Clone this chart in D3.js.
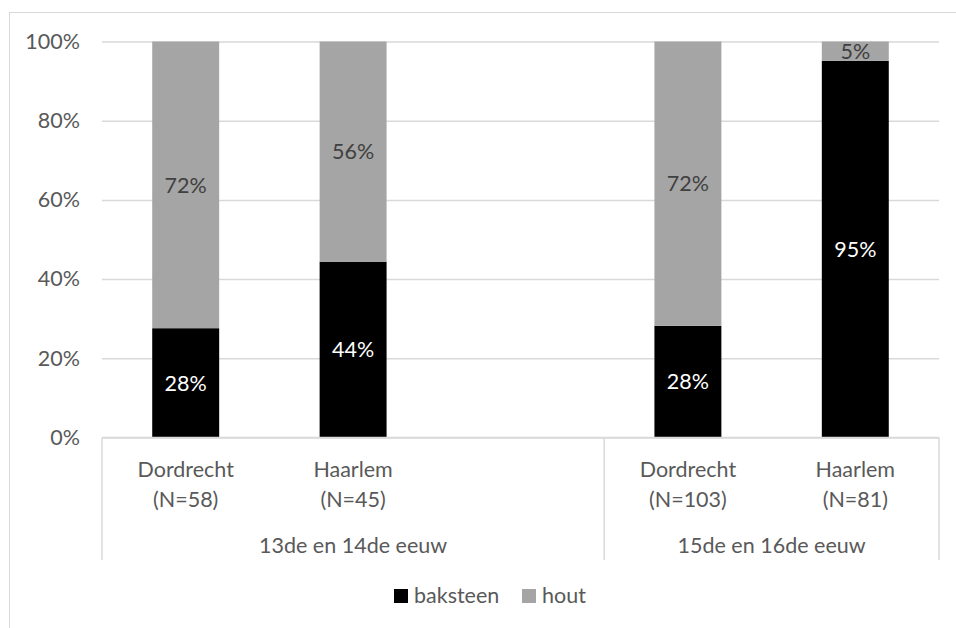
<!DOCTYPE html>
<html>
<head>
<meta charset="utf-8">
<script src="https://cdn.jsdelivr.net/npm/d3@7/dist/d3.min.js"></script>
<style>
  body { margin: 0; background: #fff; }
  text { font-family: Lato, "Open Sans", sans-serif; }
</style>
</head>
<body>
<svg id="chart"></svg>
<script>
const width = 956;
const height = 628;

// data
const cities = ['Dordrecht', 'Haarlem', '', 'Dordrecht', 'Haarlem'];
const counts = ['(N=58)', '(N=45)', '', '(N=103)', '(N=81)'];
const baksteen = [27.6, 44.4, null, 28.2, 95.1];
const hout = [72.4, 55.6, null, 71.8, 4.9];
const periods = ['13de en 14de eeuw', '15de en 16de eeuw'];
const periodFirst = [0, 3];
const periodLast = [2, 4];
const yTicks = [0, 20, 40, 60, 80, 100];
const seriesNames = ['baksteen', 'hout'];
const seriesColors = ['#000000', '#a5a5a5'];

const plotLeft = 102, plotRight = 939, plotTop = 41.5, plotBottom = 437.5;
const textColor = '#595959';
const lineColor = '#d9d9d9';

const svg = d3.select('#chart')
    .attr('width', width)
    .attr('height', height);

// chart border
svg.append('rect')
    .attr('x', 9.5).attr('y', 12.5)
    .attr('width', 1000).attr('height', 1000)
    .attr('fill', 'none')
    .attr('stroke', lineColor);

const x = d3.scaleBand()
    .domain(d3.range(cities.length))
    .range([plotLeft, plotRight])
    .paddingInner(0.6)
    .paddingOuter(0.3);

const y = d3.scaleLinear().domain([0, 100]).range([plotBottom, plotTop]);

// gridlines + y labels
const yAxis = svg.append('g')
    .attr('transform', `translate(${plotLeft},0)`)
    .call(d3.axisLeft(y).tickValues(yTicks).tickSize(-(plotRight - plotLeft)).tickFormat(d => d + '%'));
yAxis.select('.domain').remove();
yAxis.selectAll('.tick line').attr('stroke', lineColor).attr('stroke-width', 1.5);
yAxis.selectAll('.tick text')
    .attr('x', -22)
    .attr('fill', textColor)
    .style('font-size', '21.5px')
    .style('font-family', 'Lato, sans-serif');

// stacked bars
const rows = cities.map((c, i) => ({ i, baksteen: baksteen[i], hout: hout[i] }))
    .filter(d => d.baksteen != null);
const stack = d3.stack().keys(seriesNames)(rows);

const layers = svg.selectAll('g.layer')
    .data(stack)
    .enter()
    .append('g')
    .attr('class', 'layer')
    .attr('fill', (d, k) => seriesColors[k]);

layers.selectAll('rect')
    .data(d => d)
    .enter()
    .append('rect')
    .attr('x', d => x(d.data.i))
    .attr('width', x.bandwidth())
    .attr('y', d => y(d[1]))
    .attr('height', d => y(d[0]) - y(d[1]));

layers.selectAll('text')
    .data(d => d)
    .enter()
    .append('text')
    .attr('x', d => x(d.data.i) + x.bandwidth() / 2)
    .attr('y', d => (y(d[0]) + y(d[1])) / 2)
    .attr('dy', '0.36em')
    .attr('text-anchor', 'middle')
    .attr('fill', function () { return d3.select(this.parentNode).datum().key == 'baksteen' ? '#ffffff' : '#404040'; })
    .style('font-size', '21.5px')
    .text(d => Math.round(d[1] - d[0]) + '%');

// category axis
const axis = svg.append('g').attr('stroke', lineColor).attr('stroke-width', 1.5);
axis.append('line')
    .attr('x1', plotLeft).attr('x2', plotRight)
    .attr('y1', plotBottom).attr('y2', plotBottom);
const bounds = [plotLeft].concat(periodLast.map(j => x(j) - x.step() * x.paddingInner() / 2 + x.step()));
bounds.forEach(b => {
    axis.append('line')
        .attr('x1', b).attr('x2', b)
        .attr('y1', plotBottom).attr('y2', 560);
});

svg.selectAll('text.city')
    .data(cities)
    .enter()
    .append('text')
    .attr('class', 'city')
    .attr('x', (d, i) => x(i) + x.bandwidth() / 2)
    .attr('y', 477)
    .attr('text-anchor', 'middle')
    .attr('fill', textColor)
    .style('font-size', '21.5px')
    .text(d => d);

svg.selectAll('text.count')
    .data(counts)
    .enter()
    .append('text')
    .attr('class', 'count')
    .attr('x', (d, i) => x(i) + x.bandwidth() / 2)
    .attr('y', 507)
    .attr('text-anchor', 'middle')
    .attr('fill', textColor)
    .style('font-size', '21.5px')
    .text(d => d);

svg.selectAll('text.period')
    .data(periods)
    .enter()
    .append('text')
    .attr('class', 'period')
    .attr('x', (d, k) => (bounds[k] + bounds[k + 1]) / 2)
    .attr('y', 553)
    .attr('text-anchor', 'middle')
    .attr('fill', textColor)
    .style('font-size', '21.5px')
    .text(d => d);

// legend
const legend = svg.append('g').attr('transform', 'translate(394,589)');
const legendX = [0, 128];
seriesNames.forEach((s, k) => {
    legend.append('rect')
        .attr('x', legendX[k]).attr('y', 0)
        .attr('width', 14).attr('height', 14)
        .attr('fill', seriesColors[k]);
    legend.append('text')
        .attr('x', legendX[k] + 20)
        .attr('y', 14)
        .attr('fill', textColor)
        .style('font-size', '21.5px')
        .text(s);
});
</script>
</body>
</html>
